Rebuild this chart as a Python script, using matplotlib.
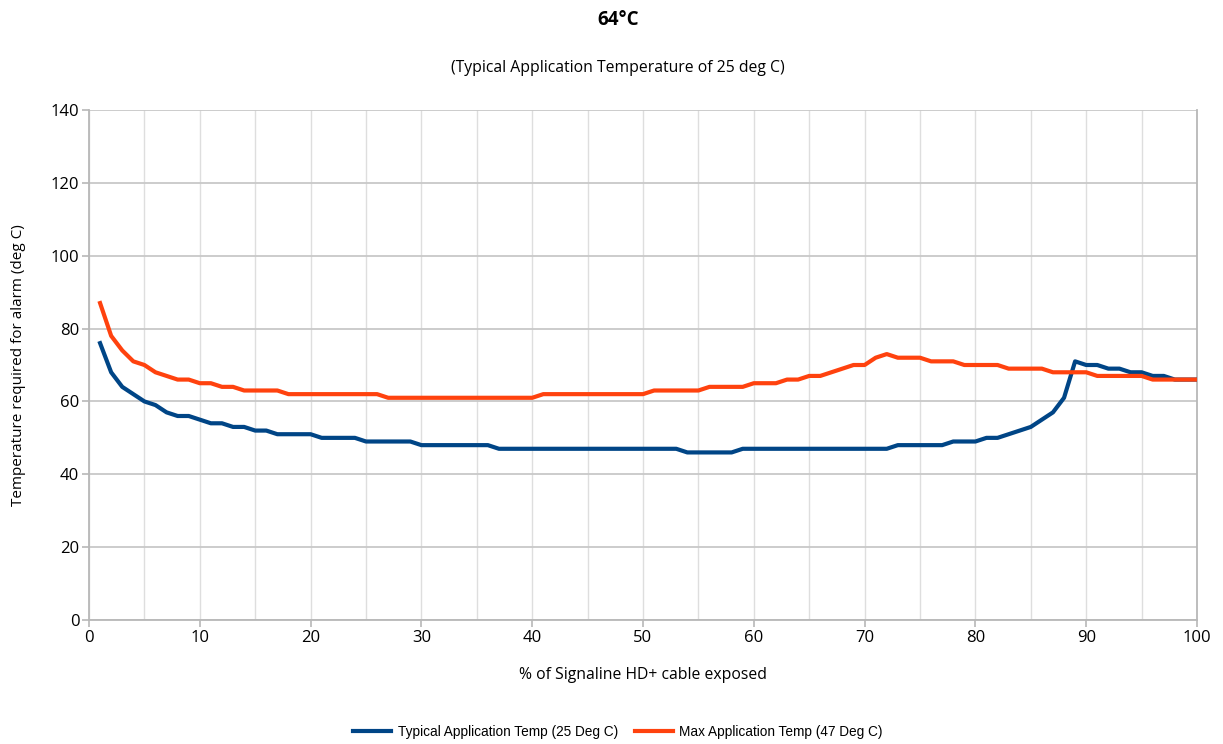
import matplotlib
matplotlib.use("Agg")
import matplotlib.pyplot as plt
from matplotlib.ticker import MultipleLocator

pct_exposed = list(range(1, 101))

typical_temp = [76, 68, 64, 62, 60, 59, 57, 56, 56, 55,
                54, 54, 53, 53, 52, 52, 51, 51, 51, 51,
                50, 50, 50, 50, 49, 49, 49, 49, 49, 48,
                48, 48, 48, 48, 48, 48, 47, 47, 47, 47,
                47, 47, 47, 47, 47, 47, 47, 47, 47, 47,
                47, 47, 47, 46, 46, 46, 46, 46, 47, 47,
                47, 47, 47, 47, 47, 47, 47, 47, 47, 47,
                47, 47, 48, 48, 48, 48, 48, 49, 49, 49,
                50, 50, 51, 52, 53, 55, 57, 61, 71, 70,
                70, 69, 69, 68, 68, 67, 67, 66, 66, 66]

max_temp = [87, 78, 74, 71, 70, 68, 67, 66, 66, 65,
            65, 64, 64, 63, 63, 63, 63, 62, 62, 62,
            62, 62, 62, 62, 62, 62, 61, 61, 61, 61,
            61, 61, 61, 61, 61, 61, 61, 61, 61, 61,
            62, 62, 62, 62, 62, 62, 62, 62, 62, 62,
            63, 63, 63, 63, 63, 64, 64, 64, 64, 65,
            65, 65, 66, 66, 67, 67, 68, 69, 70, 70,
            72, 73, 72, 72, 72, 71, 71, 71, 70, 70,
            70, 70, 69, 69, 69, 69, 68, 68, 68, 68,
            67, 67, 67, 67, 67, 66, 66, 66, 66, 66]

series_labels = ["Typical Application Temp (25 Deg C)", "Max Application Temp (47 Deg C)"]
title = "64°C"
subtitle = "(Typical Application Temperature of 25 deg C)"
xlabel = "% of Signaline HD+ cable exposed"
ylabel = "Temperature required for alarm (deg C)"

plt.rcParams['font.family'] = ['Open Sans', 'DejaVu Sans']

fig = plt.figure(figsize=(12.23, 7.44), dpi=100)
ax = fig.add_axes([89/1223, 124/744, (1197-89)/1223, 510/744])

ax.plot(pct_exposed, typical_temp, color="#004586", lw=3, label=series_labels[0], zorder=3)
ax.plot(pct_exposed, max_temp, color="#ff420e", lw=3, label=series_labels[1], zorder=3)

ax.set_xlim(0, 100)
ax.set_ylim(0, 140)
ax.xaxis.set_major_locator(MultipleLocator(10))
ax.xaxis.set_minor_locator(MultipleLocator(5))
ax.yaxis.set_major_locator(MultipleLocator(20))
ax.grid(axis='y', which='major', color="#c8c8c8", lw=1.3, zorder=0)
ax.grid(axis='x', which='minor', color="#dedede", lw=1, zorder=0)
ax.grid(axis='x', which='major', color="#dedede", lw=1, zorder=0)
for s in ['left', 'bottom', 'right']:
    ax.spines[s].set_color("#b8b8b8")
    ax.spines[s].set_linewidth(1.3)
ax.spines['top'].set_visible(False)
ax.tick_params(axis='both', which='major', length=5, width=1.2, color="#b8b8b8",
               labelsize=12, pad=2)
ax.tick_params(axis='x', which='minor', length=0)
ax.tick_params(axis='y', which='both', right=False)

ax.set_xlabel(xlabel, fontsize=11.3, labelpad=15)
ax.set_ylabel(ylabel, fontsize=11, labelpad=18)

fig.text(618/1223, 1 - 20/744, title, ha='center', va='center', fontsize=13.5, fontweight='bold')
fig.text(618/1223, 1 - 68/744, subtitle, ha='center', va='center', fontsize=11.3)

leg = fig.legend(loc='center', bbox_to_anchor=(618/1223, 1 - 732/744), ncol=2, frameon=False,
                 prop={'family': 'Liberation Sans', 'size': 9.8}, handlelength=2.8,
                 columnspacing=1.2, handletextpad=0.5)

fig.savefig("out.png", dpi=100)
